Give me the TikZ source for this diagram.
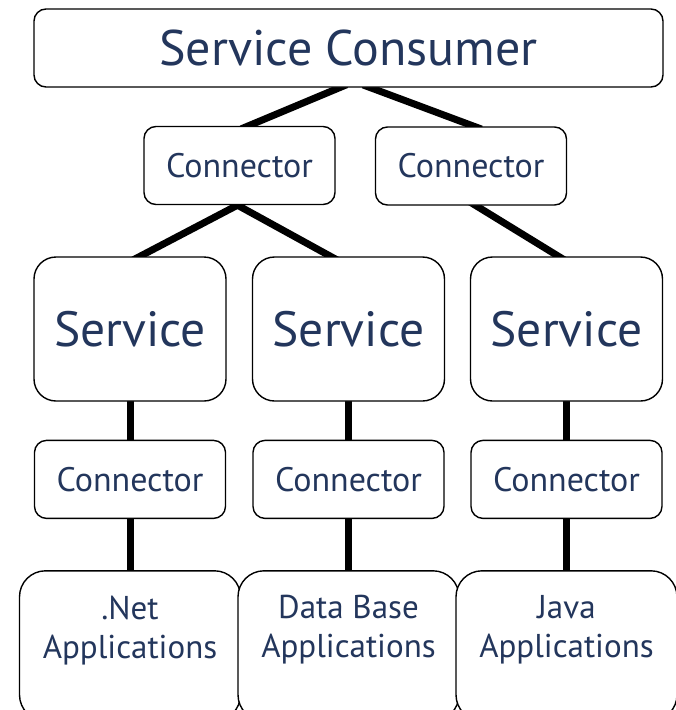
\documentclass[tikz,border=0pt]{standalone}
\usepackage{fontspec}
\setmainfont{PT Sans}
\usepackage{xcolor}
\usetikzlibrary{positioning, backgrounds}
\definecolor{SoaNavy}{RGB}{35,54,92}
\tikzset{
    consbox/.style={rectangle, rounded corners=12pt, minimum width=629pt, minimum height=78pt,
        text centered, draw=black, line width=1.4pt, fill=white, text=SoaNavy, font=\fontsize{50}{58}\selectfont},
    conbox/.style={rectangle, rounded corners=12pt, minimum width=191pt, minimum height=78pt,
        text centered, draw=black, line width=1.4pt, fill=white, text=SoaNavy, font=\fontsize{34}{40}\selectfont},
    srvbox/.style={rectangle, rounded corners=22pt, minimum width=192pt, minimum height=144pt,
        text centered, draw=black, line width=1.4pt, fill=white, text=SoaNavy, font=\fontsize{49.5}{56}\selectfont},
    appbox/.style={rectangle, rounded corners=26pt, minimum width=221pt, minimum height=150pt,
        draw=black, line width=1.4pt, fill=white},
    apptext/.style={align=center, text=SoaNavy, font=\fontsize{33}{39}\selectfont},
    link/.style={line width=7pt, black, shorten <=-8pt, shorten >=-8pt},
}
\begin{document}
\begin{tikzpicture}[x=1pt, y=-1pt]
    \path[use as bounding box, clip] (0,0) rectangle (676,710);

    \node[consbox] (cons) at (348.5,48) {Service Consumer};

    \node[conbox] (conA) at (239.5,165.5) {Connector};
    \node[conbox] (conB) at (471,166) {Connector};

    \node[srvbox] (srvA) at (130,329) {Service};
    \node[srvbox] (srvB) at (348.5,329) {Service};
    \node[srvbox] (srvC) at (566.5,329) {Service};

    \node[conbox, below=38pt of srvA] (adpA) {Connector};
    \node[conbox, below=38pt of srvB] (adpB) {Connector};
    \node[conbox, below=38pt of srvC] (adpC) {Connector};

    \node[appbox, below=51pt of adpA] (appA) {};
    \node[appbox, below=51pt of adpB] (appB) {};
    \node[appbox, below=51pt of adpC] (appC) {};
    \node[apptext] (txtA) at ([yshift=-60pt]appA.north) {.Net\\Applications};
    \node[apptext] (txtB) at ([yshift=-60pt]appB.north) {Data Base\\Applications};
    \node[apptext] (txtC) at ([yshift=-60pt]appC.north) {Java\\Applications};

    % links, behind the boxes
    \begin{scope}[on background layer]
        \draw[link] ([xshift=-9pt]cons.south) -- ([xshift=9pt]conA.north);
        \draw[link] ([xshift=22pt]cons.south) -- ([xshift=3pt]conB.north);
        \draw[link] ([xshift=-2pt]conA.south) -- ([xshift=10pt]srvA.north);
        \draw[link] ([xshift=-2pt]conA.south) -- ([xshift=-18pt]srvB.north);
        \draw[link] ([xshift=5pt]conB.south) -- ([xshift=-8pt]srvC.north);
        \foreach \i in {A,B,C} {
            \draw[link] (srv\i) -- (adp\i);
            \draw[link] (adp\i) -- (app\i);
        }
    \end{scope}
\end{tikzpicture}
\end{document}
